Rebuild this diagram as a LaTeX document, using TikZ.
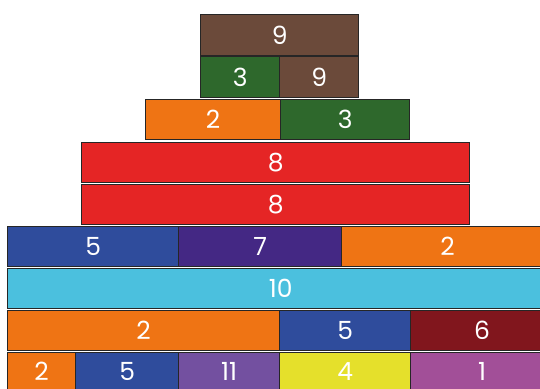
\documentclass[tikz,border=0pt]{standalone}
\usepackage{fontspec}
\setmainfont{Poppins}

\definecolor{barbrown}{RGB}{107,74,58}
\definecolor{bargreen}{RGB}{46,104,44}
\definecolor{barorange}{RGB}{239,116,20}
\definecolor{barred}{RGB}{229,37,37}
\definecolor{barblue}{RGB}{47,76,156}
\definecolor{barpurple}{RGB}{68,40,132}
\definecolor{barcyan}{RGB}{75,192,222}
\definecolor{bardarkred}{RGB}{129,22,29}
\definecolor{baryellow}{RGB}{229,224,43}
\definecolor{barviolet}{RGB}{115,80,160}
\definecolor{barmagenta}{RGB}{162,79,152}

\begin{document}
\begin{tikzpicture}[
      x=1pt,
      y=-1pt,
      cell/.style={draw=black!85,line width=1.3pt,inner sep=0pt,anchor=north west,
        text=white,font=\fontsize{25}{25}\selectfont}
    ]
    \useasboundingbox (0,0) rectangle (540,388);
    \clip (0,0) rectangle (540,388);
    % one entry per cell: name/left/top/width/height/colour/label
    \foreach \nm/\x/\y/\w/\h/\col/\lab in {
        r1/200/14/158/41/barbrown/9,
        r2a/200/56/79/41/bargreen/3,
        r2b/279/56/79/41/barbrown/9,
        r3a/145/99/135/40/barorange/2,
        r3b/280/99/129/40/bargreen/3,
        r4/81/142/388/40/barred/8,
        r5/81/184/388/40/barred/8,
        r6a/7/226/171/40/barblue/5,
        r6b/178/226/163/40/barpurple/7,
        r6c/341/226/212/40/barorange/2,
        r7/7/268/546/40/barcyan/10,
        r8a/7/310/272/40/barorange/2,
        r8b/279/310/131/40/barblue/5,
        r8c/410/310/143/40/bardarkred/6,
        r9a/7/352/68/37/barorange/2,
        r9b/75/352/103/37/barblue/5,
        r9c/178/352/101/37/barviolet/11,
        r9d/279/352/131/37/baryellow/4,
        r9e/410/352/143/37/barmagenta/1}
      \node (\nm) [cell,fill=\col,minimum width=\w pt,minimum height=\h pt] at (\x,\y) {\lab};
  \end{tikzpicture}
\end{document}
